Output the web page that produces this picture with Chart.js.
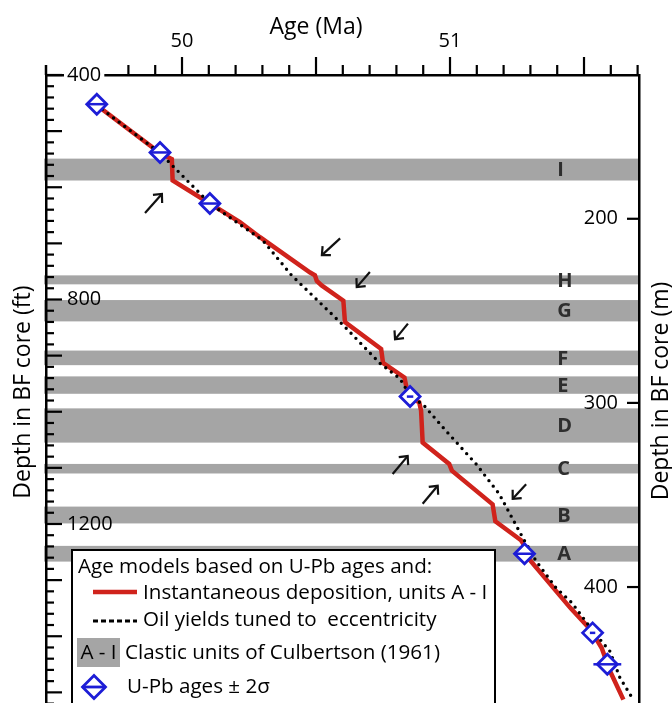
<!DOCTYPE html>
<html>
<head>
<meta charset="utf-8">
<title>Age models, BF core</title>
<script src="https://cdn.jsdelivr.net/npm/chart.js@4.4.1/dist/chart.umd.min.js"></script>
<style>
  html, body { margin: 0; padding: 0; overflow: hidden; background: #fff; }
  canvas { display: block; }
</style>
</head>
<body>
<canvas id="chart" width="672" height="722"></canvas>
<script>
// clastic units of Culbertson (1961), depth in ft
const unitNames = ['I', 'H', 'G', 'F', 'E', 'D', 'C', 'B', 'A'];
const unitTopFt = [549, 757, 801, 891, 937, 994, 1093, 1169, 1239];
const unitBaseFt = [588, 773, 839, 917, 968, 1055, 1110, 1199, 1267];

// age model 1: instantaneous deposition of units A - I
const instAge = [49.682, 49.918, 49.962, 49.965, 50.104, 50.216, 50.291, 50.478, 50.496, 50.503,
  50.521, 50.602, 50.608, 50.743, 50.750, 50.830, 50.840, 50.851, 50.885, 50.892,
  50.898, 50.997, 51.007, 51.159, 51.169, 51.265, 51.278, 51.280, 51.448, 51.522,
  51.532, 51.566, 51.597, 51.647];
const instFt = [454, 539, 550, 588, 629, 662, 689, 752, 757, 767,
  775, 802, 840, 888, 913, 939, 962, 974, 983, 998,
  1055, 1093, 1105, 1165, 1195, 1229, 1239, 1254, 1349, 1387,
  1394, 1421, 1462, 1513];

// age model 2: oil yields tuned to eccentricity
const oilAge = [49.682, 49.918, 50.104, 50.302, 50.409, 50.602, 50.739, 50.813, 50.851, 50.903,
  50.985, 51.097, 51.183, 51.271, 51.321, 51.396, 51.454, 51.534, 51.597, 51.634, 51.684];
const oilFt = [454, 539, 629, 695, 757, 846, 914, 941, 971, 989,
  1034, 1093, 1146, 1224, 1266, 1314, 1340, 1391, 1427, 1474, 1513];

// U-Pb ages and 2 sigma
const upbAge = [49.682, 49.918, 50.104, 50.851, 51.278, 51.532, 51.587];
const upbFt = [452, 538, 629, 973, 1253, 1394, 1450];
const upb2s = [0.036, 0.036, 0.036, 0.012, 0.036, 0.010, 0.052];

// arrows (tail -> head)
const arrowFromAge = [49.862, 50.590, 50.701, 50.843, 50.786, 50.898, 51.284];
const arrowFromFt = [646, 691, 751, 843, 1111, 1164, 1129];
const arrowToAge = [49.925, 50.522, 50.652, 50.795, 50.842, 50.954, 51.234];
const arrowToFt = [612, 721, 778, 871, 1079, 1132, 1155];

// tick labels
const ageLabels = [50, 51];
const ftLabels = [400, 800, 1200];
const mLabels = [200, 300, 400];

const FT_PER_M = 3.28084;
const AGE_MIN = 49.4925, AGE_MAX = 51.7052;
const FT_MIN = 400, FT_MAX = 1530;
const RED = '#d0231c';
const BLUE = '#1d1dd6';
const GREY = '#a5a5a5';
const FONT = "'Open Sans', sans-serif";

Chart.defaults.font.family = FONT;
Chart.defaults.color = '#000';

function line(ctx, x1, y1, x2, y2) {
  ctx.beginPath();
  ctx.moveTo(x1, y1);
  ctx.lineTo(x2, y2);
  ctx.stroke();
}

function near(list, v) {
  return list.some(a => Math.abs(a - v) < 1e-6);
}

// vertical axes: fixed width, no extra label padding
function fixWidth(w) {
  return s => {
    s.width = w;
    s.paddingTop = 0;
    s.paddingBottom = 0;
  };
}

// grey bands + unit letters
const unitBands = {
  id: 'unitBands',
  beforeDatasetsDraw(chart) {
    const { ctx, chartArea: a, scales: { x, y } } = chart;
    ctx.save();
    ctx.font = `bold 20px ${FONT}`;
    ctx.textAlign = 'left';
    ctx.textBaseline = 'middle';
    unitNames.forEach((name, i) => {
      const y0 = y.getPixelForValue(unitTopFt[i]);
      const y1 = y.getPixelForValue(unitBaseFt[i]);
      ctx.fillStyle = GREY;
      ctx.fillRect(a.left - 2, y0, a.right - a.left + 2, y1 - y0);
      ctx.fillStyle = '#2e2e2e';
      ctx.fillText(name, x.getPixelForValue(51.40), (y0 + y1) / 2 + 1);
    });
    ctx.restore();
  }
};

// error bars and arrows
const extras = {
  id: 'extras',
  afterDatasetsDraw(chart) {
    const { ctx, scales: { x, y } } = chart;
    ctx.save();
    ctx.strokeStyle = BLUE;
    ctx.lineWidth = 2.5;
    upbAge.forEach((age, i) => {
      const py = y.getPixelForValue(upbFt[i]);
      line(ctx, x.getPixelForValue(age - upb2s[i]), py, x.getPixelForValue(age + upb2s[i]), py);
    });

    ctx.strokeStyle = '#111';
    ctx.lineWidth = 2.2;
    arrowFromAge.forEach((age, i) => {
      const x1 = x.getPixelForValue(age), y1 = y.getPixelForValue(arrowFromFt[i]);
      const x2 = x.getPixelForValue(arrowToAge[i]), y2 = y.getPixelForValue(arrowToFt[i]);
      const ang = Math.atan2(y2 - y1, x2 - x1);
      const h = 9;
      line(ctx, x1, y1, x2, y2);
      ctx.beginPath();
      ctx.moveTo(x2 - h * Math.cos(ang - 0.75), y2 - h * Math.sin(ang - 0.75));
      ctx.lineTo(x2, y2);
      ctx.lineTo(x2 - h * Math.cos(ang + 0.75), y2 - h * Math.sin(ang + 0.75));
      ctx.stroke();
    });
    ctx.restore();
  }
};

// tick marks (inward on the depth axes, outward on the age axis) and titles
const axisDecor = {
  id: 'axisDecor',
  afterDraw(chart) {
    const { ctx, chartArea: a, scales: { x, y, y2 } } = chart;
    ctx.save();
    ctx.strokeStyle = '#000';
    ctx.lineWidth = 2.2;
    x.ticks.forEach(t => {
      const px = x.getPixelForValue(t.value);
      const major = Math.abs(t.value * 2 - Math.round(t.value * 2)) < 1e-6;
      line(ctx, px, a.top, px, a.top - (major ? 18 : 10));
    });
    y.ticks.forEach(t => {
      const py = y.getPixelForValue(t.value);
      const major = t.value % 100 === 0;
      line(ctx, a.left, py, a.left + (major ? 16 : 8), py);
    });
    y2.ticks.forEach(t => {
      const py = y2.getPixelForValue(t.value);
      line(ctx, a.right, py, a.right - 12, py);
    });
    ctx.lineWidth = 2.5;
    line(ctx, a.left, a.top - 10, a.left, a.top);

    ctx.fillStyle = '#000';
    ctx.font = `23px ${FONT}`;
    ctx.textAlign = 'center';
    ctx.textBaseline = 'middle';
    ctx.fillText('Age (Ma)', 316, 27);
    ctx.translate(661, 391);
    ctx.rotate(-Math.PI / 2);
    ctx.fillText('Depth in BF core (m)', 0, 0);
    ctx.restore();
  }
};

// legend box
const legendBox = {
  id: 'legendBox',
  afterDraw(chart) {
    const { ctx } = chart;
    const ds = chart.data.datasets;
    ctx.save();
    ctx.fillStyle = '#fff';
    ctx.fillRect(72, 550, 423, 200);
    ctx.strokeStyle = '#000';
    ctx.lineWidth = 2;
    ctx.strokeRect(72, 550, 423, 200);

    ctx.font = `20.6px ${FONT}`;
    ctx.fillStyle = '#000';
    ctx.textAlign = 'left';
    ctx.textBaseline = 'middle';
    ctx.fillText('Age models based on U-Pb ages and:', 78, 567);

    ctx.strokeStyle = RED;
    ctx.lineWidth = 4.5;
    line(ctx, 93, 592, 137, 592);
    ctx.fillText(ds[0].label, 143, 593);

    ctx.strokeStyle = '#000';
    ctx.lineWidth = 3;
    ctx.setLineDash([5, 3]);
    line(ctx, 93, 621, 137, 621);
    ctx.setLineDash([]);
    ctx.fillText(ds[1].label, 143, 620);

    ctx.fillStyle = GREY;
    ctx.fillRect(77, 638, 43, 29);
    ctx.fillStyle = '#000';
    ctx.textAlign = 'center';
    ctx.fillText('A - I', 98.5, 653);
    ctx.textAlign = 'left';
    ctx.fillText('Clastic units of Culbertson (1961)', 125, 653);

    ctx.fillStyle = '#fff';
    ctx.strokeStyle = BLUE;
    ctx.lineWidth = 2.8;
    Chart.helpers.drawPoint(ctx, { pointStyle: 'rectRot', radius: 11.5, rotation: 0, borderWidth: 2.8 }, 94, 687);
    line(ctx, 82.5, 687, 105.5, 687);
    ctx.fillStyle = '#000';
    ctx.fillText(ds[2].label, 127, 687);
    ctx.restore();
  }
};

const ageTicks = [];
for (let i = 0; i <= 19; i++) ageTicks.push(Math.round((49.8 + i * 0.1) * 10) / 10);
const ftTicks = [];
for (let v = 400; v <= 1520; v += 20) ftTicks.push(v);

new Chart(document.getElementById('chart'), {
  type: 'line',
  data: {
    datasets: [
      {
        label: 'Instantaneous deposition, units A - I',
        data: instAge.map((a, i) => ({ x: a, y: instFt[i] })),
        borderColor: RED,
        borderWidth: 4.5,
        pointRadius: 0,
        tension: 0,
        order: 2
      },
      {
        label: 'Oil yields tuned to  eccentricity',
        data: oilAge.map((a, i) => ({ x: a, y: oilFt[i] })),
        borderColor: '#000',
        borderWidth: 3.4,
        borderDash: [0, 7],
        borderCapStyle: 'round',
        pointRadius: 0,
        tension: 0,
        order: 1
      },
      {
        type: 'scatter',
        label: 'U-Pb ages \u00b1 2\u03c3',
        data: upbAge.map((a, i) => ({ x: a, y: upbFt[i] })),
        pointStyle: 'rectRot',
        pointRadius: 10,
        pointBorderWidth: 2.8,
        pointBorderColor: BLUE,
        pointBackgroundColor: '#fff',
        order: 0
      }
    ]
  },
  options: {
    responsive: false,
    animation: false,
    events: [],
    layout: { padding: { bottom: 4 } },
    plugins: { legend: { display: false }, tooltip: { enabled: false } },
    scales: {
      x: {
        type: 'linear',
        position: 'top',
        min: AGE_MIN,
        max: AGE_MAX,
        afterBuildTicks: s => { s.ticks = ageTicks.map(v => ({ value: v })); },
        afterFit: s => { s.height = 75; s.paddingLeft = 0; s.paddingRight = 0; },
        ticks: {
          autoSkip: false,
          maxRotation: 0,
          padding: 22,
          font: { size: 20 },
          callback: v => near(ageLabels, v) ? String(Math.round(v)) : ''
        },
        grid: { display: false, drawTicks: false },
        border: { display: true, color: '#000', width: 2.5, z: 1 }
      },
      y: {
        type: 'linear',
        position: 'left',
        reverse: true,
        min: FT_MIN,
        max: FT_MAX,
        afterBuildTicks: s => { s.ticks = ftTicks.map(v => ({ value: v })); },
        afterFit: fixWidth(46),
        ticks: {
          autoSkip: false,
          mirror: true,
          padding: 21,
          z: 2,
          font: { size: 20 },
          showLabelBackdrop: c => !!c.tick && c.tick.value === 400,
          backdropColor: '#fff',
          backdropPadding: { x: 3, y: 2 },
          callback: v => near(ftLabels, v) ? String(v) : ''
        },
        title: {
          display: true,
          text: 'Depth in BF core (ft)',
          font: { size: 23 },
          padding: { top: 10, bottom: 0 }
        },
        grid: { display: false, drawTicks: false },
        border: { display: true, color: '#000', width: 2.5, z: 1 }
      },
      y2: {
        type: 'linear',
        position: 'right',
        reverse: true,
        min: FT_MIN / FT_PER_M,
        max: FT_MAX / FT_PER_M,
        afterBuildTicks: s => { s.ticks = mLabels.map(v => ({ value: v })); },
        afterFit: fixWidth(33),
        ticks: {
          autoSkip: false,
          mirror: true,
          padding: -21,
          z: 2,
          font: { size: 20 },
          callback: v => String(v)
        },
        grid: { display: false, drawTicks: false },
        border: { display: true, color: '#000', width: 2.5, z: 1 }
      }
    }
  },
  plugins: [unitBands, extras, axisDecor, legendBox]
});
</script>
</body>
</html>
